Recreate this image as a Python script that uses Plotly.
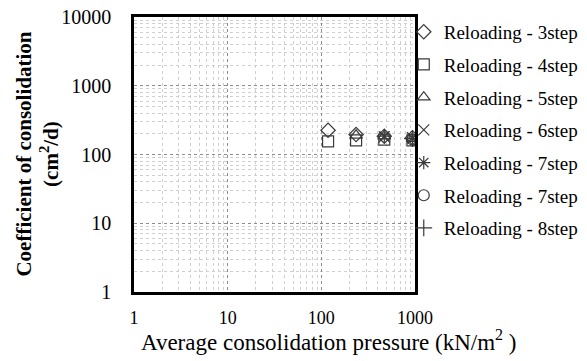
import plotly.graph_objects as go

# Average consolidation pressure (kN/m2) and coefficient of consolidation (cm2/d)
series_names = [
    "Reloading - 3step",
    "Reloading - 4step",
    "Reloading - 5step",
    "Reloading - 6step",
    "Reloading - 7step",
    "Reloading - 7step",
    "Reloading - 8step",
]
pressure_3 = [118, 235, 470, 940]
cv_3 = [225, 195, 185, 175]
pressure_4 = [118, 235, 470, 940]
cv_4 = [155, 160, 165, 160]
pressure_5 = [235, 470, 940]
cv_5 = [190, 185, 170]
pressure_6 = [470, 940]
cv_6 = [180, 175]
pressure_7a = [470, 940]
cv_7a = [185, 170]
pressure_7b = [940]
cv_7b = [165]
pressure_8 = [940]
cv_8 = [170]

x_ticks = [1, 10, 100, 1000]
y_ticks = [1, 10, 100, 1000, 10000]

pressures = [pressure_3, pressure_4, pressure_5, pressure_6, pressure_7a, pressure_7b, pressure_8]
cvs = [cv_3, cv_4, cv_5, cv_6, cv_7a, cv_7b, cv_8]
symbols = ["diamond-open", "square-open", "triangle-up-open", "x-thin-open",
           "asterisk-open", "circle-open", "cross-thin-open"]
sizes = [11, 11, 11, 11, 11, 11, 12]

SERIF = "Liberation Serif, Times New Roman, serif"
INK = "#3a3a3a"

fig = go.Figure()
for i, (name, xs, ys) in enumerate(zip(series_names, pressures, cvs)):
    fig.add_trace(go.Scatter(
        x=xs, y=ys, mode="markers", name=name, legendgroup=f"g{i}",
        marker=dict(symbol=symbols[i], size=sizes[i], color=INK,
                    line=dict(color=INK, width=1.2)),
    ))

axis_common = dict(
    type="log", showline=True, linecolor="black", linewidth=2.5, mirror=True,
    ticks="", showgrid=True, gridcolor="#8c8c8c", griddash="dot", gridwidth=1,
    zeroline=False, dtick=1,
    minor=dict(showgrid=True, dtick="D1", gridcolor="#cfcfcf", griddash="dot",
               gridwidth=1, ticks=""),
)

fig.update_xaxes(
    **axis_common, range=[0, 3], tickvals=x_ticks, ticktext=[str(v) for v in x_ticks],
    tickfont=dict(family=SERIF, size=18, color="black"), ticklabelstandoff=8,
)
fig.update_yaxes(
    **axis_common, range=[0, 4], tickvals=y_ticks, ticktext=[str(v) for v in y_ticks],
    tickfont=dict(family=SERIF, size=20, color="black"), ticklabelstandoff=16,
)

# Axis titles placed as annotations
fig.add_annotation(
    text="Average consolidation pressure (kN/m<sup>2</sup> )",
    xref="paper", yref="paper", x=0.694, y=-0.175, xanchor="center", yanchor="middle",
    showarrow=False, font=dict(family=SERIF, size=23, color="black"),
)
fig.add_annotation(
    text="<b>Coefficient of consolidation<br>(cm<sup>2</sup>/d)</b>",
    xref="paper", yref="paper", x=-0.345, y=0.5, xanchor="center", yanchor="middle",
    textangle=-90, showarrow=False, font=dict(family=SERIF, size=21, color="black"),
)

fig.update_layout(
    width=587, height=361,
    margin=dict(l=134, r=172, t=17, b=69, autoexpand=False),
    paper_bgcolor="white", plot_bgcolor="white",
    showlegend=True,
    legend=dict(x=0.96, xanchor="left", y=1.015, yanchor="top",
                font=dict(family=SERIF, size=19, color="black"),
                tracegroupgap=5, itemwidth=30, maxheight=360,
                bgcolor="rgba(0,0,0,0)"),
)

fig.write_html("out.html")
